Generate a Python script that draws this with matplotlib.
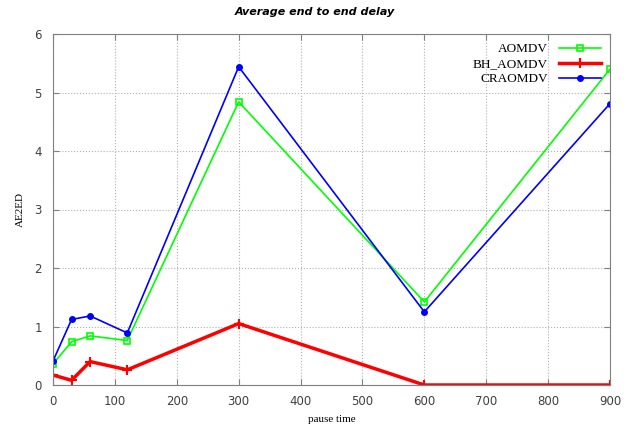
import numpy as np
import matplotlib.pyplot as plt

# pause time values and average end-to-end delay per protocol
pause_time = [0, 30, 60, 120, 300, 600, 900]
aomdv = [0.36, 0.74, 0.84, 0.76, 4.84, 1.42, 5.40]
bh_aomdv = [0.17, 0.08, 0.40, 0.26, 1.05, 0.0, 0.0]
craomdv = [0.41, 1.12, 1.18, 0.89, 5.44, 1.25, 4.81]

fig = plt.figure(figsize=(6.29, 4.29), dpi=100)
ax = fig.add_axes([53/629, 1 - 385/429, (610-53)/629, (385-34)/429])

ax.plot(pause_time, aomdv, color='#00ff00', lw=1.2, marker='s', ms=4,
        mfc='none', mew=1.2, label='AOMDV')
ax.plot(pause_time, bh_aomdv, color='#ff0000', lw=2.5, marker='+', ms=7,
        mew=1.5, label='BH_AOMDV')
ax.plot(pause_time, craomdv, color='#0000ff', lw=1.2, marker='o', ms=4,
        label='CRAOMDV')

ax.set_xlim(0, 900)
ax.set_ylim(0, 6)
ax.set_xticks(np.arange(0, 901, 100))
ax.set_yticks(np.arange(0, 7, 1))
ax.grid(True, color='#b0b0b0', linestyle=':', lw=0.8)
for s in ax.spines.values():
    s.set_color('#808080')
ax.tick_params(direction='in', length=4, colors='#808080', labelcolor='#404040',
               labelsize=8.5, top=True, right=True)
ax.tick_params(axis='x', pad=7)
ax.tick_params(axis='y', pad=8)

ax.set_xlabel('pause time', family='Liberation Serif', fontsize=8, labelpad=5)
ax.set_ylabel('AE2ED', family='Liberation Serif', fontsize=8, labelpad=7)
fig.text(0.5, 1 - 12/429, 'Average end to end delay', ha='center', va='center',
         fontsize=8, fontweight='bold', fontstyle='italic')

leg = ax.legend(loc='upper right', frameon=False, markerfirst=False,
                prop={'family': 'Liberation Serif', 'size': 9.5},
                handlelength=3.2, labelspacing=0.2, borderaxespad=0.3)

fig.savefig('out.png', dpi=100)
